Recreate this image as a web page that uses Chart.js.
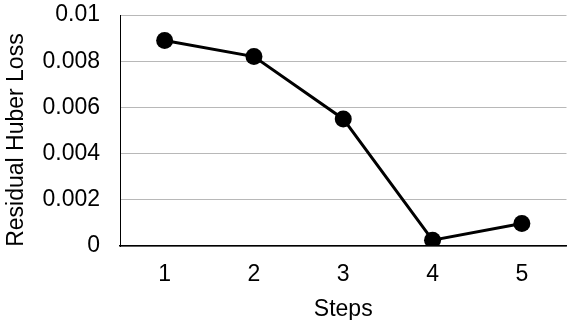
<!DOCTYPE html>
<html>
<head>
<meta charset="utf-8">
<script src="https://cdn.jsdelivr.net/npm/chart.js@4"></script>
<style>
    html, body { margin: 0; padding: 0; background: #fff; overflow: hidden; }
    #wrap { width: 575px; height: 320px; }
</style>
</head>
<body>
<div id="wrap"><canvas id="lossChart" width="575" height="320"></canvas></div>
<script>
// 데이터
const steps = ['1', '2', '3', '4', '5'];
const lossValues = [0.0089, 0.0082, 0.0055, 0.00025, 0.00097];
const yTickLabels = ['0', '0.002', '0.004', '0.006', '0.008', '0.01'];

const fontFamily = '"Liberation Sans", Arial, sans-serif';

new Chart(document.getElementById('lossChart'), {
    type: 'line',
    data: {
        labels: steps,
        datasets: [{
            data: lossValues,
            borderColor: '#000',
            backgroundColor: '#000',
            borderWidth: 3,
            pointRadius: 8.5,
            pointHoverRadius: 8.5,
            pointBackgroundColor: '#000',
            pointBorderWidth: 0,
            tension: 0
        }]
    },
    options: {
        responsive: false,
        animation: false,
        layout: { padding: 0 },
        plugins: {
            legend: { display: false },
            tooltip: { enabled: false }
        },
        scales: {
            x: {
                offset: true,
                grid: { display: false },
                border: { color: '#000', width: 1.5 },
                ticks: {
                    color: '#000',
                    padding: 7,
                    font: { family: fontFamily, size: 23 }
                },
                title: {
                    display: true,
                    text: 'Steps',
                    color: '#000',
                    padding: { top: 0, bottom: -3 },
                    font: { family: fontFamily, size: 23 }
                },
                afterFit: function(scale) { scale.height = 74; }
            },
            y: {
                min: 0,
                max: 0.01,
                grid: { color: '#b8b8b8', lineWidth: 1, drawTicks: false },
                border: { color: '#000', width: 1 },
                ticks: {
                    stepSize: 0.002,
                    color: '#000',
                    padding: 20,
                    font: { family: fontFamily, size: 23 },
                    callback: function(value, index) {
                        return yTickLabels[index];
                    }
                },
                title: {
                    display: true,
                    // 뒤쪽 공백으로 제목을 살짝 아래로
                    text: 'Residual Huber Loss   ',
                    color: '#000',
                    padding: { top: 3, bottom: 0 },
                    font: { family: fontFamily, size: 23 }
                },
                afterFit: function(scale) {
                    scale.width = 120;
                    // 위쪽 여백 조정
                    scale.paddingTop = 15;
                    scale.paddingBottom = 0;
                }
            }
        }
    }
});
</script>
</body>
</html>
